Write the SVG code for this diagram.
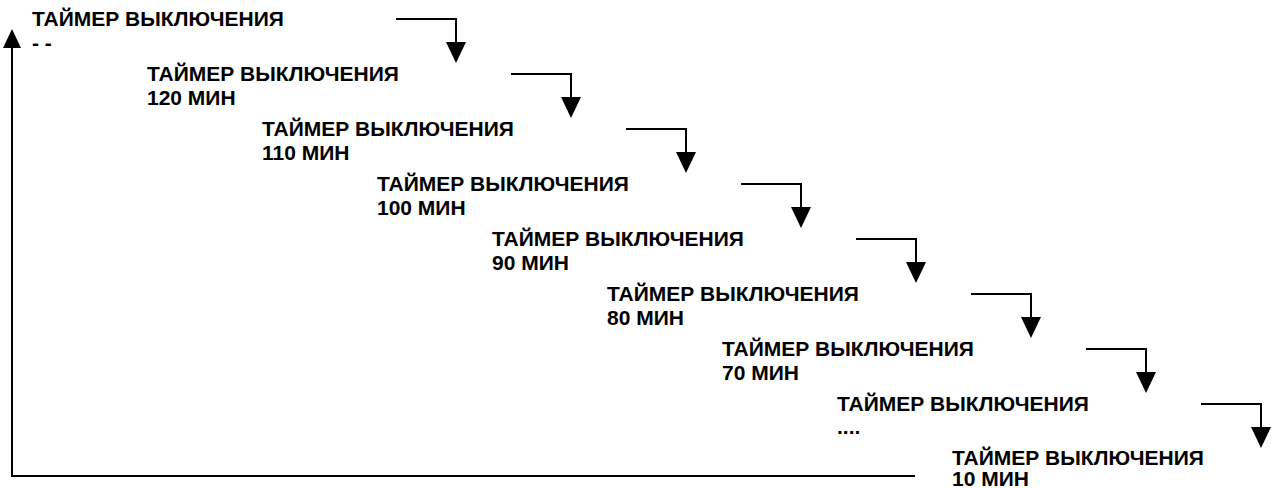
<svg xmlns="http://www.w3.org/2000/svg" width="1271" height="488" viewBox="0 0 1271 488">
<style>
text{font-family:"Liberation Sans",Arial,sans-serif;font-weight:bold;font-size:21px;fill:#000}
.ln{fill:none;stroke:#000;stroke-width:2}
.ah{fill:#000;stroke:none}
</style>
<rect width="1271" height="488" fill="#fff"/>
<g id="node1"><text x="32" y="26">ТАЙМЕР ВЫКЛЮЧЕНИЯ</text><text x="32" y="50">- -</text></g>
<g id="node2" transform="translate(115,55)"><text x="32" y="26">ТАЙМЕР ВЫКЛЮЧЕНИЯ</text><text x="32" y="50">120 МИН</text></g>
<g id="node3" transform="translate(230,110)"><text x="32" y="26">ТАЙМЕР ВЫКЛЮЧЕНИЯ</text><text x="32" y="50">110 МИН</text></g>
<g id="node4" transform="translate(345,165)"><text x="32" y="26">ТАЙМЕР ВЫКЛЮЧЕНИЯ</text><text x="32" y="50">100 МИН</text></g>
<g id="node5" transform="translate(460,220)"><text x="32" y="26">ТАЙМЕР ВЫКЛЮЧЕНИЯ</text><text x="32" y="50">90 МИН</text></g>
<g id="node6" transform="translate(575,275)"><text x="32" y="26">ТАЙМЕР ВЫКЛЮЧЕНИЯ</text><text x="32" y="50">80 МИН</text></g>
<g id="node7" transform="translate(690,330)"><text x="32" y="26">ТАЙМЕР ВЫКЛЮЧЕНИЯ</text><text x="32" y="50">70 МИН</text></g>
<g id="node8" transform="translate(805,385)"><text x="32" y="26">ТАЙМЕР ВЫКЛЮЧЕНИЯ</text><text x="32" y="49">....</text></g>
<g id="node9" transform="translate(920,439)"><text x="32" y="26">ТАЙМЕР ВЫКЛЮЧЕНИЯ</text><text x="32" y="47">10 МИН</text></g>
<g id="connectors">
<g><path class="ln" d="M396,19H456V44"/><polygon class="ah" points="446,42 466,42 456,63"/></g>
<g transform="translate(115,55)"><path class="ln" d="M396,19H456V44"/><polygon class="ah" points="446,42 466,42 456,63"/></g>
<g transform="translate(230,110)"><path class="ln" d="M396,19H456V44"/><polygon class="ah" points="446,42 466,42 456,63"/></g>
<g transform="translate(345,165)"><path class="ln" d="M396,19H456V44"/><polygon class="ah" points="446,42 466,42 456,63"/></g>
<g transform="translate(460,220)"><path class="ln" d="M396,19H456V44"/><polygon class="ah" points="446,42 466,42 456,63"/></g>
<g transform="translate(575,275)"><path class="ln" d="M396,19H456V44"/><polygon class="ah" points="446,42 466,42 456,63"/></g>
<g transform="translate(690,330)"><path class="ln" d="M396,19H456V44"/><polygon class="ah" points="446,42 466,42 456,63"/></g>
<g transform="translate(805,385)"><path class="ln" d="M396,19H456V44"/><polygon class="ah" points="446,42 466,42 456,63"/></g>
<g><path class="ln" d="M915,476H12V46"/><polygon class="ah" points="3,48 21,48 12,29"/></g>
</g>
</svg>
